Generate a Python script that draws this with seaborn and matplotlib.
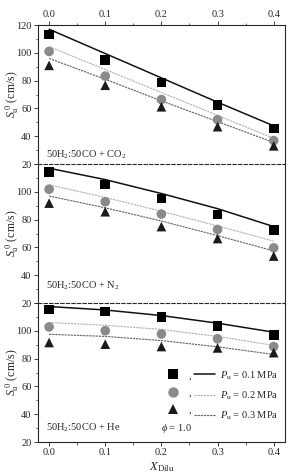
import matplotlib
matplotlib.use('Agg')
import matplotlib.pyplot as plt
import pandas as pd
import seaborn as sns
from matplotlib.lines import Line2D
from matplotlib.ticker import MultipleLocator

# dilution fraction
x_dilu = [0.0, 0.1, 0.2, 0.3, 0.4]
diluents = ['CO$_2$', 'N$_2$', 'He']
pressures = ['0.1', '0.2', '0.3']

# measured laminar burning velocity (cm/s)
meas_co2_01 = [113.3, 94.8, 78.8, 62.4, 45.5]
meas_co2_02 = [101.0, 83.3, 66.4, 51.9, 36.9]
meas_co2_03 = [91.0, 76.7, 61.2, 46.9, 33.1]
meas_n2_01 = [114.3, 105.4, 95.2, 83.6, 72.6]
meas_n2_02 = [101.9, 92.9, 84.0, 72.9, 59.7]
meas_n2_03 = [91.9, 85.7, 75.0, 66.4, 53.8]
meas_he_01 = [115.3, 113.9, 110.0, 103.5, 96.9]
meas_he_02 = [102.8, 100.1, 97.7, 94.3, 88.7]
meas_he_03 = [91.6, 90.4, 88.7, 87.7, 84.3]

# computed burning velocity (cm/s)
calc_co2_01 = [117.0, 99.5, 82.0, 64.5, 47.5]
calc_co2_02 = [104.5, 88.0, 71.5, 55.0, 38.5]
calc_co2_03 = [96.0, 81.0, 65.5, 50.5, 35.5]
calc_n2_01 = [117.0, 108.8, 98.8, 87.9, 75.0]
calc_n2_02 = [105.0, 96.0, 86.0, 75.5, 64.5]
calc_n2_03 = [97.0, 88.5, 79.0, 68.5, 57.5]
calc_he_01 = [117.5, 115.0, 111.0, 105.5, 99.0]
calc_he_02 = [106.0, 104.0, 101.0, 96.0, 89.5]
calc_he_03 = [97.5, 96.0, 93.0, 88.5, 83.0]

meas = {
    'CO$_2$': [meas_co2_01, meas_co2_02, meas_co2_03],
    'N$_2$': [meas_n2_01, meas_n2_02, meas_n2_03],
    'He': [meas_he_01, meas_he_02, meas_he_03],
}
calc = {
    'CO$_2$': [calc_co2_01, calc_co2_02, calc_co2_03],
    'N$_2$': [calc_n2_01, calc_n2_02, calc_n2_03],
    'He': [calc_he_01, calc_he_02, calc_he_03],
}

rows = []
for d in diluents:
    for i, p in enumerate(pressures):
        for x, m, c in zip(x_dilu, meas[d][i], calc[d][i]):
            rows.append({'diluent': d, 'pressure': p, 'x': x, 'meas': m, 'calc': c})
df = pd.DataFrame(rows)

sns.set_theme(style='ticks')
plt.rcParams['font.family'] = ['Liberation Serif', 'DejaVu Serif']
plt.rcParams['mathtext.fontset'] = 'custom'
plt.rcParams['mathtext.rm'] = 'Liberation Serif'
plt.rcParams['mathtext.it'] = 'Liberation Serif:italic'

marker_colors = {'0.1': '#000000', '0.2': '#8a8a8a', '0.3': '#1a1a1a'}
markers = {'0.1': 's', '0.2': 'o', '0.3': '^'}
line_colors = {'0.1': '#111111', '0.2': '#b0b0b0', '0.3': '#606060'}
line_styles = {'0.1': '-', '0.2': (0, (2, 0.8)), '0.3': (0, (2, 0.8))}
line_widths = {'0.1': 1.1, '0.2': 0.8, '0.3': 0.8}

fig, axes = plt.subplots(3, 1, figsize=(2.89, 4.73), dpi=100, sharex=True)
fig.subplots_adjust(left=0.131, right=0.986, top=0.947, bottom=0.0655, hspace=0)

label_y = {'CO$_2$': 27, 'N$_2$': 32.5, 'He': 30}

for ax, d in zip(axes, diluents):
    ax.patch.set_visible(False)
    sdf = df[df['diluent'] == d]
    for p in pressures:
        pdf = sdf[sdf['pressure'] == p]
        sns.lineplot(x='x', y='calc', data=pdf, ax=ax, color=line_colors[p],
                     lw=line_widths[p], linestyle=line_styles[p], legend=False)
    for p in pressures:
        pdf = sdf[sdf['pressure'] == p]
        sns.scatterplot(x='x', y='meas', data=pdf, ax=ax, marker=markers[p],
                        color=marker_colors[p], s=48, edgecolor='none',
                        legend=False, zorder=3)
    ax.set_xlim(-0.02, 0.42)
    ax.set_ylim(20, 120)
    ax.set_yticks([20, 40, 60, 80, 100, 120])
    ax.yaxis.set_minor_locator(MultipleLocator(10))
    ax.set_xticks(x_dilu)
    ax.xaxis.set_minor_locator(MultipleLocator(0.05))
    ax.set_ylabel(r'$S_{\rm u}^{\ 0}$ (cm/s)', fontsize=8.5)
    ax.yaxis.set_label_coords(-0.07, 0.5)
    ax.set_xlabel('')
    ax.tick_params(axis='both', which='major', labelsize=7.5, length=3, width=0.6, pad=1.5)
    ax.tick_params(axis='both', which='minor', length=1.8, width=0.5)
    for s in ax.spines.values():
        s.set_linewidth(0.8)
    ax.text(-0.005, label_y[d], '50H$_2$:50CO + ' + d, fontsize=7.5, va='center')

# top panel: labels on top axis, dashed lower boundary
axes[0].tick_params(axis='x', which='both', top=True, labeltop=True,
                    bottom=False, labelbottom=False)
axes[0].spines['bottom'].set_linestyle((0, (3, 2)))
axes[0].spines['bottom'].set_zorder(5)
axes[1].spines['top'].set_visible(False)
axes[1].spines['bottom'].set_linestyle((0, (3, 2)))
axes[1].spines['bottom'].set_zorder(5)
axes[1].tick_params(axis='x', which='both', bottom=False, labelbottom=False)
axes[2].spines['top'].set_visible(False)
for ax in axes[1:]:
    ax.set_yticklabels(['20', '40', '60', '80', '100', ''])

axes[2].set_xticklabels(['0.0', '0.1', '0.2', '0.3', '0.4'])
axes[2].tick_params(axis='x', which='both', bottom=True, labelbottom=True)
axes[2].set_xlabel(r'$X_{\rm Dilu}$', fontsize=9, labelpad=2)
axes[2].text(0.2, 30, r'$\phi$ = 1.0', fontsize=7.5, va='center')

# legend: marker , line  label
h_mark = [Line2D([], [], linestyle='none', marker=markers[p], color=marker_colors[p],
                 markersize=7.5, markeredgewidth=0) for p in pressures]
h_line = [Line2D([], [], color=line_colors[p], lw=line_widths[p], linestyle=line_styles[p])
          for p in pressures]
labels = [','] * 3 + [r'$P_{\rm u}$ = %s MPa' % p for p in pressures]
axes[2].legend(h_mark + h_line, labels, ncol=2, frameon=False, fontsize=7.5,
               handlelength=2.0, handletextpad=0.5, columnspacing=0.3,
               labelspacing=0.75, loc='upper right', bbox_to_anchor=(1.0, 0.57),
               borderaxespad=0.2)

plt.savefig('out.png', dpi=100)
plt.close(fig)
